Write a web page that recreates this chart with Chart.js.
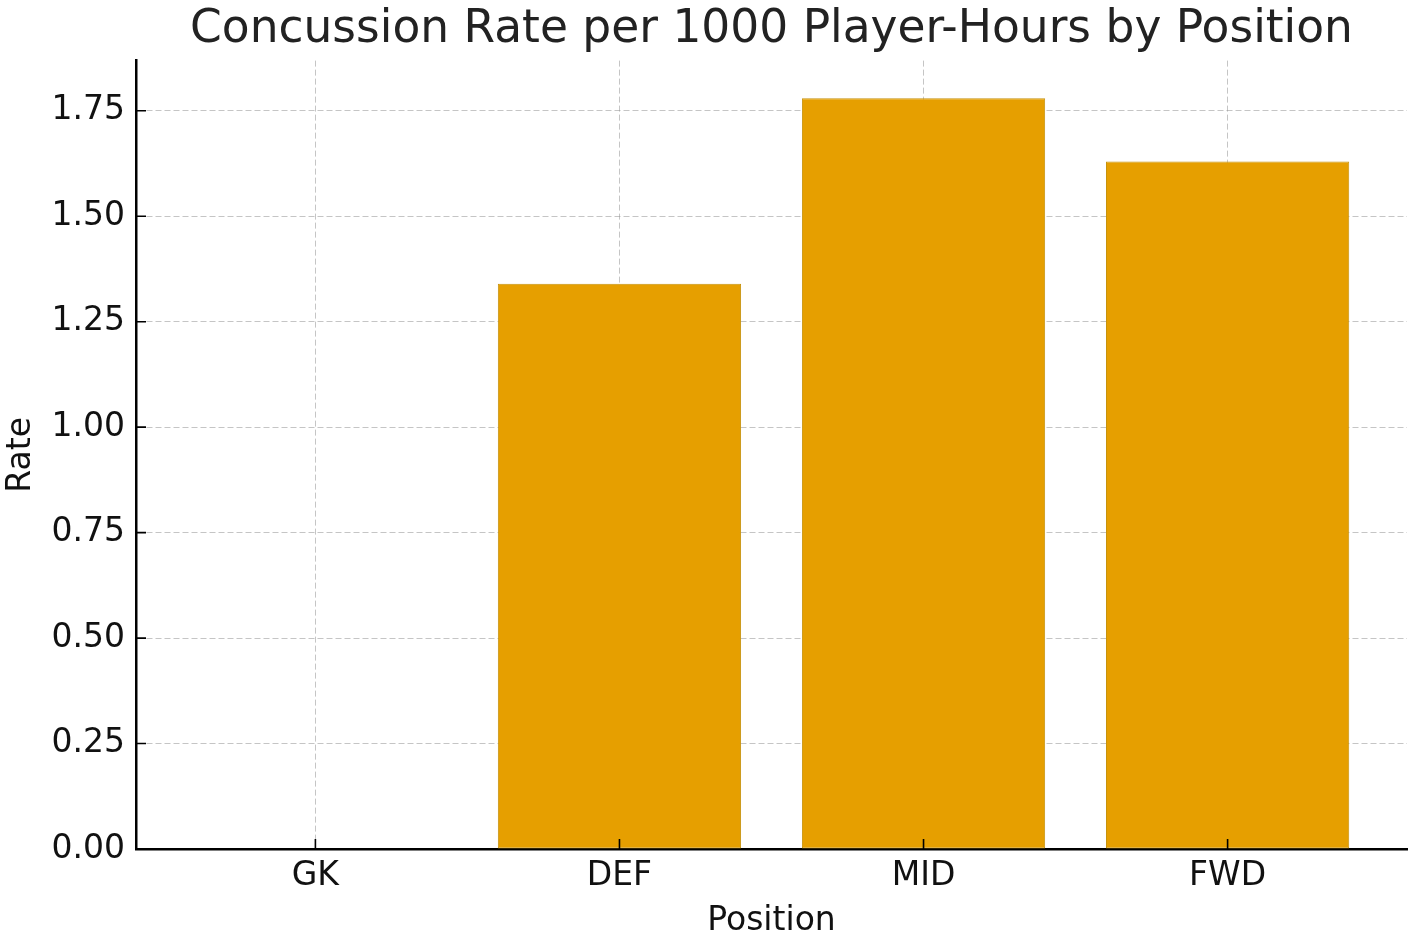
<!DOCTYPE html>
<html>
<head>
<meta charset="utf-8">
<script src="https://cdn.jsdelivr.net/npm/chart.js@4"></script>
<style>
html,body{margin:0;padding:0;background:#fff;}
#wrap{width:1417px;height:939px;}
</style>
</head>
<body>
<div id="wrap"><canvas id="c" width="1417" height="939"></canvas></div>
<script>
const categories = ['GK', 'DEF', 'MID', 'FWD'];
const rates = [0.0, 1.34, 1.78, 1.63];
const yTicks = [0, 0.25, 0.5, 0.75, 1.0, 1.25, 1.5, 1.75];
const titleText = 'Concussion Rate per 1000 Player-Hours by Position';
const xLabel = 'Position';
const yLabel = 'Rate';

const FONT = "'DejaVu Sans', sans-serif";
const gridColor = 'rgba(150,150,150,0.55)';

const inwardTicks = {
  id: 'inwardTicks',
  afterDraw(chart) {
    const ctx = chart.ctx;
    const xs = chart.scales.x, ys = chart.scales.y;
    const a = chart.chartArea;
    ctx.save();
    ctx.strokeStyle = '#000';
    ctx.lineWidth = 1.6;
    ctx.beginPath();
    categories.forEach((c, i) => {
      const px = xs.getPixelForValue(i);
      ctx.moveTo(px, a.bottom);
      ctx.lineTo(px, a.bottom - 10);
    });
    yTicks.forEach(v => {
      const py = ys.getPixelForValue(v);
      ctx.moveTo(a.left, py);
      ctx.lineTo(a.left + 10, py);
    });
    ctx.stroke();
    ctx.restore();
  }
};

const centerTitle = {
  id: 'centerTitle',
  afterLayout(chart) {
    const t = chart.titleBlock;
    if (t) {
      t.left = chart.chartArea.left;
      t.right = chart.chartArea.right;
      t.width = t.right - t.left;
    }
  }
};

new Chart(document.getElementById('c'), {
  type: 'bar',
  data: {
    datasets: [{
      data: categories.map((c, i) => ({x: i, y: rates[i]})),
      backgroundColor: '#E69F00',
      borderColor: '#c6920c',
      borderWidth: 1,
      borderSkipped: false,
      barPercentage: 0.8,
      categoryPercentage: 1.0
    }]
  },
  options: {
    responsive: false,
    animation: false,
    devicePixelRatio: 1,
    layout: {padding: {left: 0, right: 10, top: 0, bottom: 0}},
    plugins: {
      legend: {display: false},
      tooltip: {enabled: false},
      title: {
        display: true,
        text: titleText,
        color: '#222',
        font: {family: FONT, size: 45.5, weight: 'normal'},
        padding: {top: 3, bottom: 3},
        align: 'center'
      }
    },
    scales: {
      x: {
        type: 'linear',
        min: -0.59,
        max: 3.59,
        offset: false,
        z: 1,
        afterBuildTicks(scale) {
          scale.ticks = categories.map((c, i) => ({value: i}));
        },
        afterFit(scale) { scale.height = 90; },
        ticks: {
          callback: (v) => categories[v],
          color: '#111',
          font: {family: FONT, size: 33},
          padding: 8,
          maxRotation: 0,
          autoSkip: false
        },
        grid: {
          color: gridColor,
          lineWidth: 1,
          drawTicks: false,
          offset: false
        },
        border: {display: true, color: '#000', width: 2.5, dash: [6, 3]},
        title: {
          display: true,
          text: xLabel,
          color: '#111',
          font: {family: FONT, size: 33},
          padding: {top: 0, bottom: -2}
        }
      },
      y: {
        type: 'linear',
        min: 0,
        max: 1.869,
        z: 1,
        afterBuildTicks(scale) {
          scale.ticks = yTicks.map(v => ({value: v}));
        },
        afterFit(scale) { scale.width = 136; },
        ticks: {
          callback: (v) => v.toFixed(2),
          color: '#111',
          font: {family: FONT, size: 33},
          padding: 11
        },
        grid: {
          color: gridColor,
          lineWidth: 1,
          drawTicks: false
        },
        border: {display: true, color: '#000', width: 2.5, dash: [6, 3]},
        title: {
          display: true,
          text: yLabel,
          color: '#111',
          font: {family: FONT, size: 33},
          padding: {top: 2, bottom: 0}
        }
      }
    }
  },
  plugins: [inwardTicks, centerTitle]
});
</script>
</body>
</html>
